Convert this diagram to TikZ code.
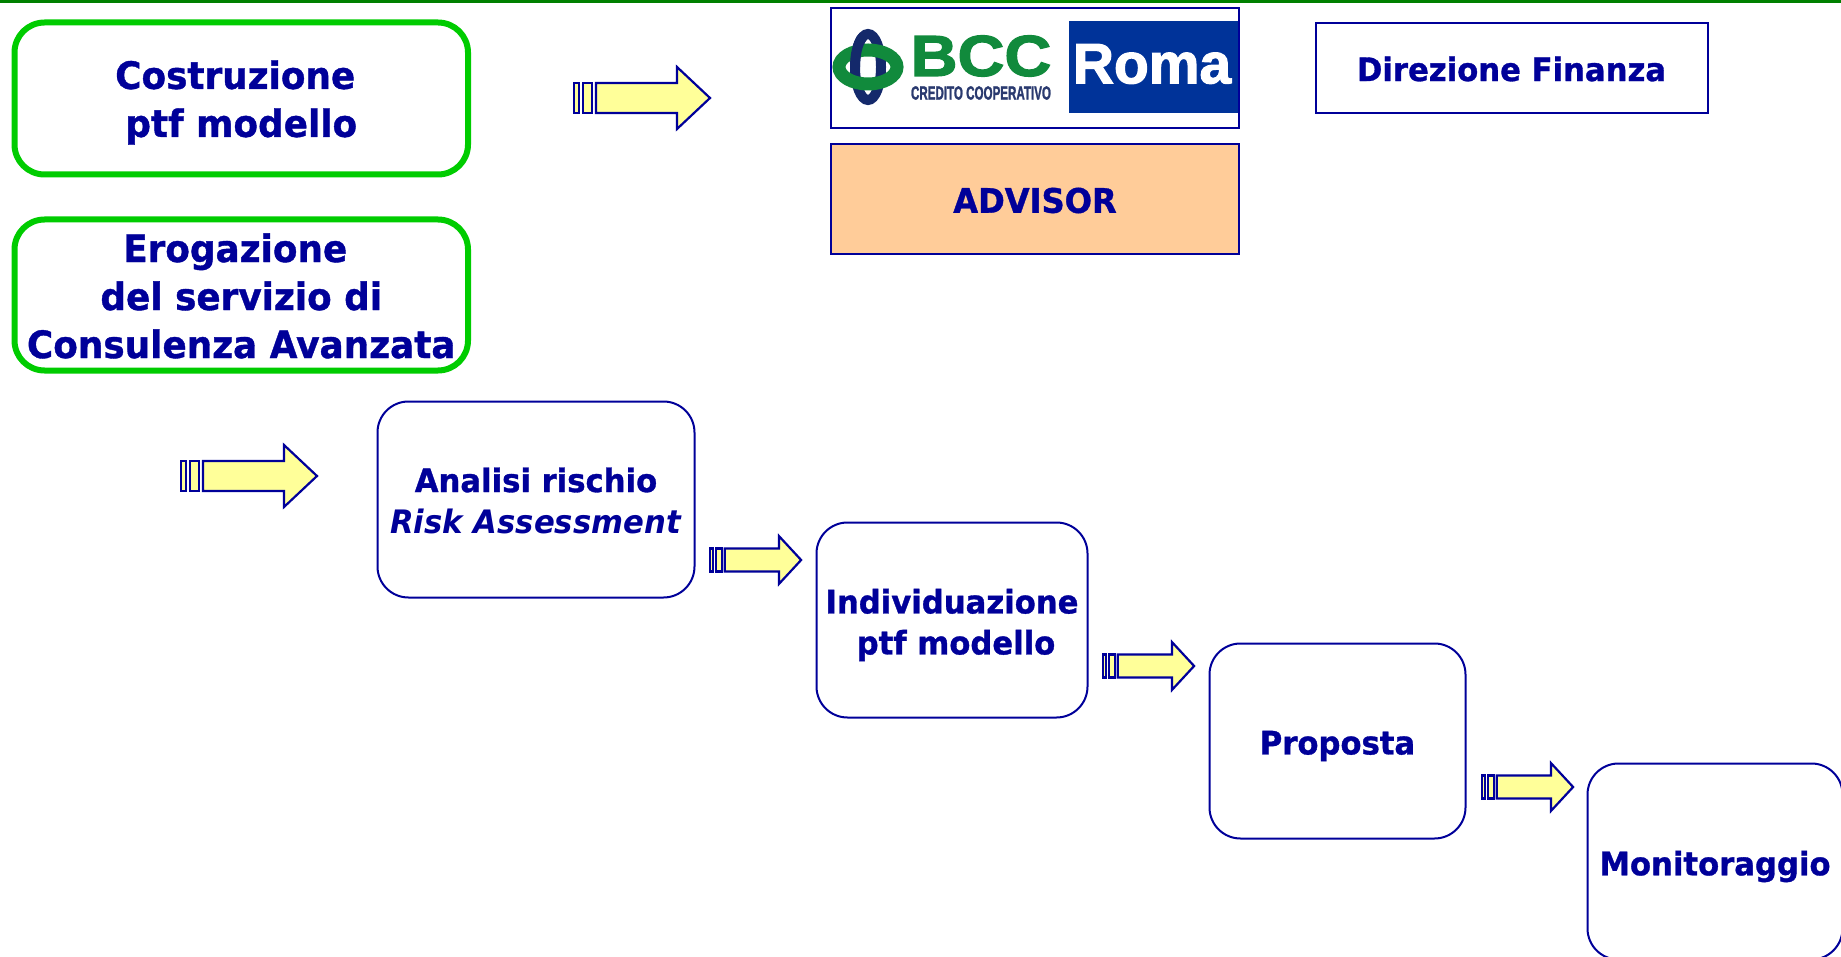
\documentclass[tikz,border=0pt]{standalone}
\usepackage{fontspec}
\setmainfont{DejaVu Sans}[FakeStretch=0.95,BoldFeatures={FakeBold=1}]
\newfontfamily\logofont{Liberation Sans}[BoldFeatures={FakeBold=2}]
\definecolor{navytext}{HTML}{000099}
\definecolor{boxgreen}{HTML}{00CC00}
\definecolor{topgreen}{HTML}{008000}
\definecolor{advisorfill}{HTML}{FFCC99}
\definecolor{arrowfill}{HTML}{FFFF99}
\definecolor{romablue}{HTML}{003399}
\definecolor{bccgreen}{HTML}{118A3C}
\definecolor{bccnavy}{HTML}{14296B}
\begin{document}
\begin{tikzpicture}[x=1pt, y=-1pt,
  label/.style={text=navytext, font=\fontsize{32.3}{41}\selectfont\bfseries, align=center},
  greenlabel/.style={text=navytext, font=\fontsize{37.7}{48}\selectfont\bfseries, align=center},
  greenbox/.style={draw=boxgreen, line width=6pt, rounded corners=30pt, inner sep=0pt},
  stepbox/.style={draw=navytext, line width=2pt, rounded corners=31pt, inner sep=0pt},
  plainbox/.style={draw=navytext, line width=2pt, inner sep=0pt},
  blockarrow/.pic={
    \draw [draw=navytext, line width=2.2pt, fill=arrowfill] (22,-15) -- (103,-15) -- (103,-31) -- (136,0) -- (103,31) -- (103,15) -- (22,15) -- cycle;
    \draw [draw=navytext, line width=2.2pt, fill=arrowfill] (9,-15) rectangle (18,15);
    \draw [draw=navytext, line width=2.2pt, fill=arrowfill] (0,-15) rectangle (5,15);
  }]
\useasboundingbox (0,0) rectangle (1841,957);
\fill [topgreen] (0,0) rectangle (1841,3);

\node [greenbox, minimum width=453.5pt, minimum height=152pt] (costruzione) at (241.25,98.5) {};
\node [greenlabel] (costruzionetext) at ([yshift=-4pt]costruzione) {Costruzione\hspace*{12pt}\\ptf modello};
\node [greenbox, minimum width=453.5pt, minimum height=151pt] (erogazione) at (241.25,295) {};
\node [greenlabel] (erogazionetext) at ([yshift=-1pt]erogazione) {Erogazione\hspace*{12pt}\\del servizio di\hspace*{15pt}\\Consulenza Avanzata};

\node [plainbox, minimum width=408pt, minimum height=120pt] (logo) at (1035,68) {};
\node [plainbox, fill=advisorfill, minimum width=408pt, minimum height=110pt] (advisor) at (1035,199.5) {};
\node [label, font=\fontsize{33.8}{41}\selectfont\bfseries] (advisortext) at ([yshift=-1pt]advisor) {ADVISOR};
\node [plainbox, minimum width=392pt, minimum height=90pt] (direzione) at (1511.5,68) {};
\node [label] (direzionetext) at ([yshift=-1pt]direzione) {Direzione Finanza};

\fill [romablue] (1069,21) rectangle (1238,113);
\node [text=white, font=\logofont\fontsize{57}{57}\selectfont\bfseries] (roma) at (1152,64) {Roma};
\draw [bccnavy, line width=10pt] (868,67) ellipse (13pt and 33pt);
\draw [bccgreen, line width=13pt] (868,67) ellipse (29pt and 17pt);
\draw [bccnavy, line width=10pt] (855,67) arc [start angle=180, end angle=115, x radius=13pt, y radius=33pt];
\node [text=bccgreen, xscale=1.12, font=\logofont\fontsize{58}{58}\selectfont\bfseries] (bcc) at (981,56) {BCC};
\node [text=bccnavy!80!gray, xscale=0.61, font=\logofont\fontsize{19}{19}\selectfont\bfseries] (credito) at (981,93) {CREDITO COOPERATIVO};

\pic at (574,98) {blockarrow};
\pic at (181,476) {blockarrow};
\pic [xscale=0.67, yscale=0.77] at (710,560) {blockarrow};
\pic [xscale=0.67, yscale=0.77] at (1103,666) {blockarrow};
\pic [xscale=0.67, yscale=0.77] at (1482,787) {blockarrow};

\node [stepbox, minimum width=317pt, minimum height=196pt] (analisi) at (536,499.5) {};
\node [label] (analisitext) at ([yshift=-1pt]analisi) {Analisi rischio\\\textit{Risk Assessment}};
\node [stepbox, minimum width=271pt, minimum height=195pt] (individuazione) at (952,620) {};
\node [label] (individuazionetext) at ([yshift=-5pt]individuazione) {Individuazione\\\hspace*{8pt}ptf modello};
\node [stepbox, minimum width=256pt, minimum height=195pt] (proposta) at (1337.5,741) {};
\node [label] (propostatext) at ([yshift=-5pt]proposta) {Proposta};
\node [stepbox, minimum width=255pt, minimum height=196pt] (monitoraggio) at (1715,861.5) {};
\node [label] (monitoraggiotext) at ([yshift=-5pt]monitoraggio) {Monitoraggio};
\end{tikzpicture}
\end{document}
